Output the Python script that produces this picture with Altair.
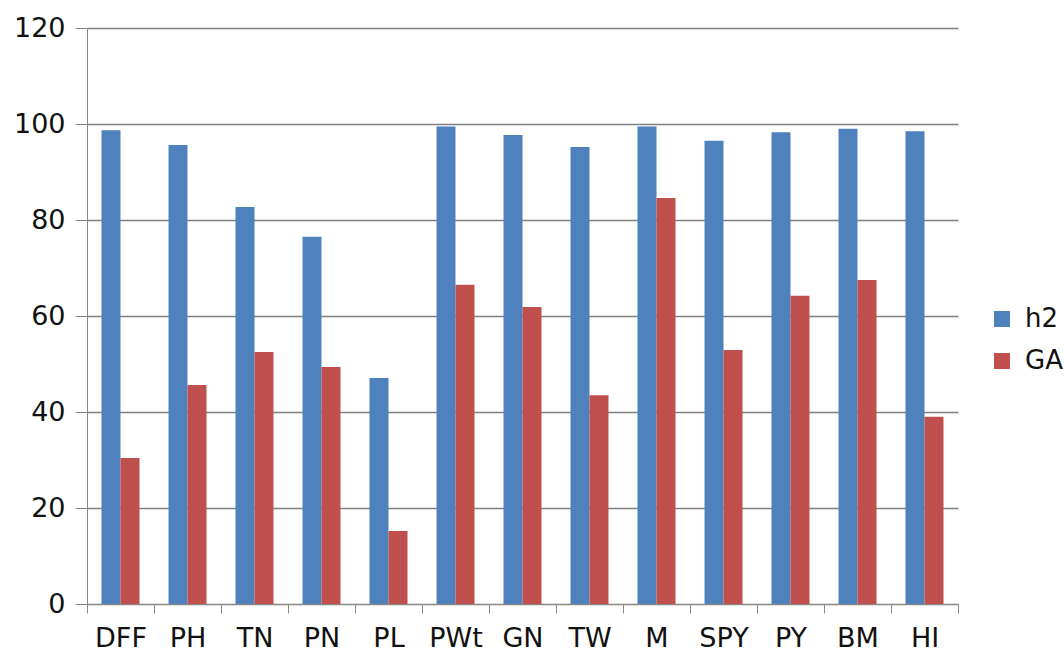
import altair as alt
import pandas as pd

categories = ["DFF", "PH", "TN", "PN", "PL", "PWt", "GN", "TW", "M", "SPY", "PY", "BM", "HI"]
h2 = [98.7, 95.6, 82.7, 76.5, 47.1, 99.5, 97.7, 95.2, 99.5, 96.5, 98.3, 99.0, 98.5]
ga = [30.4, 45.6, 52.5, 49.4, 15.2, 66.5, 61.9, 43.5, 84.6, 52.9, 64.2, 67.5, 39.0]
series = ["h2", "GA"]
colors = ["#4F81BD", "#C0504D"]

rows = []
for c, a, b in zip(categories, h2, ga):
    rows.append({"cat": c, "series": "h2", "value": a})
    rows.append({"cat": c, "series": "GA", "value": b})
df = pd.DataFrame(rows)

FONT = "DejaVu Sans"

chart = alt.Chart(df).mark_bar().encode(
    x=alt.X("cat:N", sort=categories, title=None,
            scale=alt.Scale(paddingInner=0, paddingOuter=0),
            axis=alt.Axis(labelAngle=0, tickBand="extent", labelFont=FONT,
                          labelFontSize=27, labelColor="#111111", labelPadding=12,
                          tickSize=9, tickColor="#8a8a80", domainColor="#8a8a80",
                          grid=False)),
    xOffset=alt.XOffset("series:N", sort=series,
                        scale=alt.Scale(paddingInner=0, paddingOuter=0.763)),
    y=alt.Y("value:Q", title=None,
            scale=alt.Scale(domain=[0, 120]),
            axis=alt.Axis(values=[0, 20, 40, 60, 80, 100, 120], labelFont=FONT,
                          labelFontSize=27, labelColor="#111111", labelPadding=10,
                          tickSize=12, tickColor="#808080", domainColor="#8a8a80",
                          gridColor="#808080", gridWidth=1.3)),
    color=alt.Color("series:N", sort=series,
                    scale=alt.Scale(domain=series, range=colors),
                    legend=alt.Legend(title=None, orient="none", legendX=902, legendY=278,
                                      symbolType="square", symbolSize=256,
                                      symbolStrokeWidth=0, labelFont=FONT,
                                      labelFontSize=26, labelColor="#111111",
                                      labelOffset=10, rowPadding=16)),
).properties(
    width=871, height=576,
    background="white",
    autosize=alt.AutoSizeParams(type="none"),
    padding={"left": 87, "top": 28, "right": 106, "bottom": 54},
).configure_view(stroke=None)

chart.save("out.html", embed_options={"renderer": "svg", "actions": False})
